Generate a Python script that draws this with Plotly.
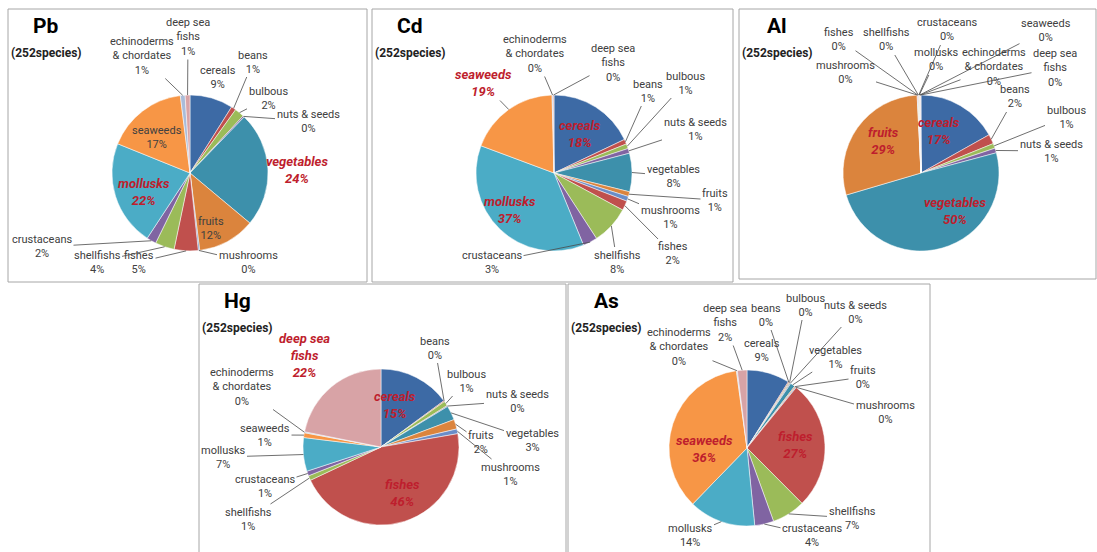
import math
import plotly.graph_objects as go

# ---------------- data ----------------
categories = ["cereals", "beans", "bulbous", "nuts & seeds", "vegetables", "fruits",
              "mushrooms", "fishes", "shellfishs", "crustaceans", "mollusks",
              "seaweeds", "echinoderms & chordates", "deep sea fishs"]

pb_values = [9, 1, 2, 0.3, 24, 12, 0.3, 5, 4, 2, 22, 17, 1, 1]
cd_values = [18, 1, 1, 1, 8, 1, 1, 2, 8, 3, 37, 19, 0.2, 0.2]
al_values = [17, 2, 1, 1, 50, 29, 0.1, 0.1, 0.1, 0.1, 0.1, 0.1, 0.1, 0.1]
hg_values = [15, 0.2, 1, 0.2, 3, 2, 1, 46, 1, 1, 7, 1, 0.2, 22]
as_values = [9, 0.2, 0.2, 0.2, 1, 0.2, 0.2, 27, 7, 4, 14, 36, 0.2, 2]

element_titles = ["Pb", "Cd", "Al", "Hg", "As"]
species_note = "(252species)"

# ---------------- style ----------------
W, H = 1097, 552
R = 78
slice_colors = ["#3D6AA5", "#C0504D", "#9BBB59", "#8064A2", "#3D90AB", "#DB843D",
                "#6A8DC8", "#C0504D", "#9BBB59", "#8064A2", "#4BACC6", "#F79646",
                "#A9BCD9", "#D8A3A6"]
display_names = {
    "echinoderms & chordates": "echinoderms<br>& chordates",
    "deep sea fishs": "deep sea<br>fishs",
}
FONT = "Liberation Sans Narrow, Arial Narrow, Roboto, sans-serif"
TXT = "#404040"
HI = "#BE1E2D"
LINE = "#4a4a4a"

# panel boxes (pixels) and pie centers (pixels)
panels = [
    dict(box=(8, 9, 367, 282), center=(190, 173)),
    dict(box=(372, 9, 733, 282), center=(554, 173)),
    dict(box=(739, 9, 1096, 279), center=(921, 173)),
    dict(box=(199, 284, 566, 560), center=(381, 447)),
    dict(box=(568, 284, 930, 560), center=(747, 448)),
]

# label placement per panel: category -> (x, y, leader, highlight)
label_layouts = [
    {  # Pb
        "cereals": (218, 77, False, False),
        "beans": (253, 62, True, False),
        "bulbous": (268, 98, True, False),
        "nuts & seeds": (308, 121, True, False),
        "vegetables": (297, 170, False, True),
        "fruits": (211, 228, False, False),
        "mushrooms": (248, 262, True, False),
        "fishes": (139, 262, True, False),
        "shellfishs": (97, 262, True, False),
        "crustaceans": (42, 247, True, False),
        "mollusks": (144, 192, False, True),
        "seaweeds": (157, 137, False, False),
        "echinoderms & chordates": (142, 56, True, False),
        "deep sea fishs": (188, 37, True, False),
    },
    {  # Cd
        "cereals": (580, 134, False, True),
        "beans": (648, 91, True, False),
        "bulbous": (685, 83, True, False),
        "nuts & seeds": (695, 129, True, False),
        "vegetables": (673, 176, True, False),
        "fruits": (715, 200, True, False),
        "mushrooms": (670, 217, True, False),
        "fishes": (673, 254, True, False),
        "shellfishs": (617, 262, True, False),
        "crustaceans": (492, 262, True, False),
        "mollusks": (510, 210, False, True),
        "seaweeds": (483, 83, True, True),
        "echinoderms & chordates": (535, 54, True, False),
        "deep sea fishs": (613, 63, True, False),
    },
    {  # Al
        "cereals": (939, 131, False, True),
        "beans": (1015, 97, True, False),
        "bulbous": (1066, 117, True, False),
        "nuts & seeds": (1051, 151, True, False),
        "vegetables": (955, 211, False, True),
        "fruits": (883, 141, False, True),
        "mushrooms": (845, 72, True, False),
        "fishes": (839, 39, True, False),
        "shellfishs": (886, 40, True, False),
        "crustaceans": (947, 30, True, False),
        "mollusks": (936, 60, True, False),
        "seaweeds": (1046, 30, True, False),
        "echinoderms & chordates": (994, 67, True, False),
        "deep sea fishs": (1055, 68, True, False),
    },
    {  # Hg
        "cereals": (395, 405, False, True),
        "beans": (435, 348, True, False),
        "bulbous": (466, 381, True, False),
        "nuts & seeds": (517, 401, True, False),
        "vegetables": (532, 440, True, False),
        "fruits": (481, 442, True, False),
        "mushrooms": (510, 474, True, False),
        "fishes": (402, 493, False, True),
        "shellfishs": (248, 519, True, False),
        "crustaceans": (265, 487, True, False),
        "mollusks": (223, 457, True, False),
        "seaweeds": (265, 435, True, False),
        "echinoderms & chordates": (242, 387, True, False),
        "deep sea fishs": (305, 355, False, True),
    },
    {  # As
        "cereals": (762, 350, False, False),
        "beans": (766, 315, True, False),
        "bulbous": (805, 305, True, False),
        "nuts & seeds": (855, 312, True, False),
        "vegetables": (835, 357, True, False),
        "fruits": (863, 377, True, False),
        "mushrooms": (885, 413, True, False),
        "fishes": (795, 445, False, True),
        "shellfishs": (852, 518, True, False),
        "crustaceans": (812, 535, True, False),
        "mollusks": (690, 535, True, False),
        "seaweeds": (705, 449, False, True),
        "echinoderms & chordates": (679, 347, True, False),
        "deep sea fishs": (725, 323, True, False),
    },
]

all_values = [pb_values, cd_values, al_values, hg_values, as_values]


def px2paper(x, y):
    return x / W, 1 - y / H


fig = go.Figure()
shapes = []
annotations = []

for p, vals, title, lay in zip(panels, all_values, element_titles, label_layouts):
    cx, cy = p["center"]
    x0, y0, x1, y1 = p["box"]
    shapes.append(dict(type="rect", xref="paper", yref="paper",
                       x0=x0 / W, x1=x1 / W, y0=1 - y1 / H, y1=1 - y0 / H,
                       line=dict(color="#A6A6A6", width=1), fillcolor="rgba(0,0,0,0)",
                       layer="below"))
    fig.add_trace(go.Pie(
        labels=categories, values=vals, sort=False, direction="clockwise",
        rotation=0, textinfo="none", hoverinfo="label+percent",
        marker=dict(colors=slice_colors, line=dict(color="white", width=0.5)),
        domain=dict(x=[(cx - R) / W, (cx + R) / W],
                    y=[1 - (cy + R) / H, 1 - (cy - R) / H]),
        showlegend=False,
    ))
    # titles
    tx = x0 + 38
    annotations.append(dict(xref="paper", yref="paper", x=tx / W, y=1 - (y0 + 17) / H,
                            text=f"<b>{title}</b>", showarrow=False,
                            font=dict(family=FONT, size=21, color="#000000"),
                            xanchor="center", yanchor="middle"))
    annotations.append(dict(xref="paper", yref="paper", x=tx / W, y=1 - (y0 + 44) / H,
                            text=f"<b>{species_note}</b>", showarrow=False,
                            font=dict(family=FONT, size=12, color="#222222"),
                            xanchor="center", yanchor="middle"))
    total = sum(vals)
    cum = 0.0
    for cat, v in zip(categories, vals):
        mid = (cum + v / 2) / total
        cum += v
        ang = 2 * math.pi * mid
        ex = cx + R * math.sin(ang)
        ey = cy - R * math.cos(ang)
        lx, ly, leader, hi = lay[cat]
        pct = f"{round(100 * v / total)}%"
        name = display_names.get(cat, cat)
        if hi:
            text = f"<b><i>{name}<br>{pct}</i></b>"
            font = dict(family=FONT, size=13, color=HI)
        else:
            text = f"{name}<br>{pct}"
            font = dict(family=FONT, size=11, color=TXT)
        if leader:
            hx, hy = px2paper(ex, ey)
            annotations.append(dict(xref="paper", yref="paper", x=hx, y=hy,
                                    ax=lx - ex, ay=ly - ey, axref="pixel", ayref="pixel",
                                    text=text, showarrow=True, arrowhead=0,
                                    arrowwidth=0.8, arrowcolor=LINE, standoff=0,
                                    startstandoff=0, font=font, align="center"))
        else:
            ax_, ay_ = px2paper(lx, ly)
            annotations.append(dict(xref="paper", yref="paper", x=ax_, y=ay_,
                                    text=text, showarrow=False, font=font,
                                    align="center", xanchor="center", yanchor="middle"))

fig.update_layout(
    width=W, height=H, margin=dict(l=0, r=0, t=0, b=0),
    paper_bgcolor="white", plot_bgcolor="white",
    shapes=shapes, annotations=annotations, showlegend=False,
)

fig.write_html("out.html")
